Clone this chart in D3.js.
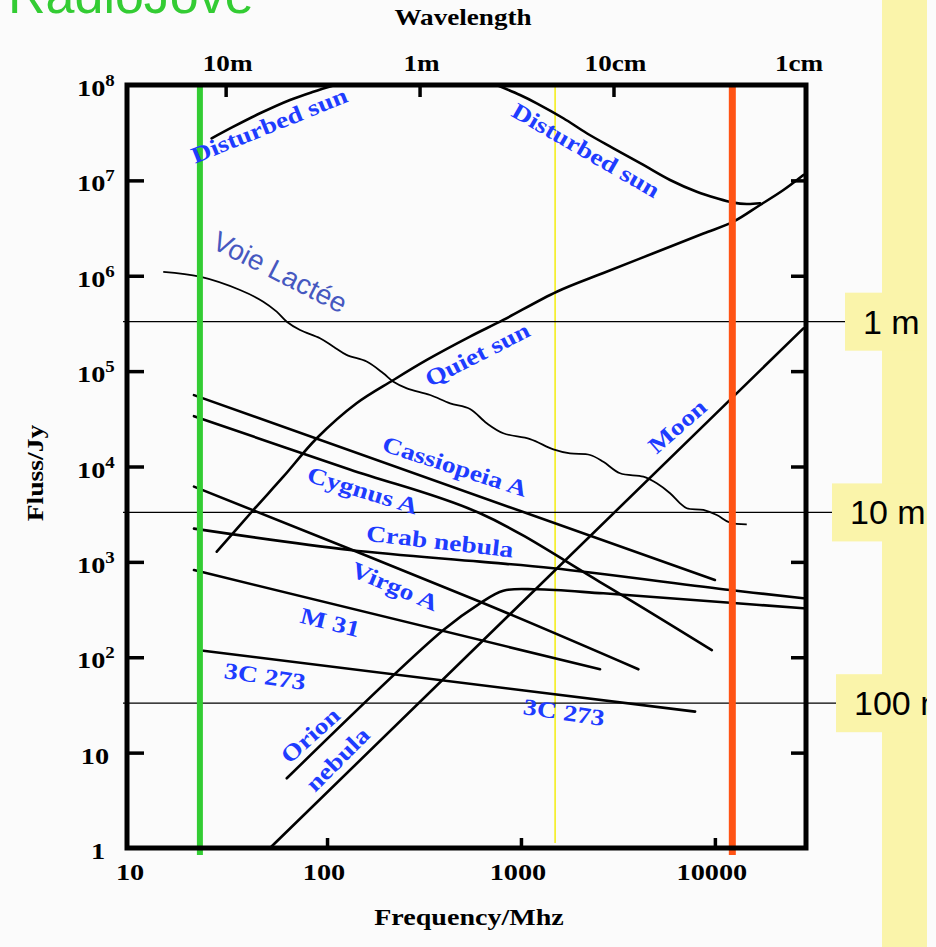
<!DOCTYPE html>
<html>
<head>
<meta charset="utf-8">
<script src="https://cdn.jsdelivr.net/npm/d3@7"></script>
<style>
  body { margin: 0; background: #fbfbfb; }
  svg { display: block; }
</style>
</head>
<body>
<svg id="chart" width="936" height="947"></svg>
<script>
// ---- data: [frequency MHz, flux Jy] ----
var disturbedSunLow = [[25.4, 2.76e7], [32.9, 3.66e7], [45.1, 5.05e7], [64.4, 6.97e7], [85, 8.5e7], [110, 1e8]];
var disturbedSunHigh = [[750, 1e8], [989, 7.85e7], [1206, 6.43e7], [1654, 4.48e7], [2184, 3.12e7], [2996, 2.17e7],
    [4278, 1.45e7], [5873, 1.01e7], [8065, 7.6e6], [10230, 6.49e6], [12460, 5.84e6], [14600, 5.65e6], [17100, 5.75e6]];
var quietSun = [[27, 1279], [41.7, 3499], [59.5, 7816], [88.5, 19760], [142, 46000], [220, 80700], [327, 1.31e5],
    [546, 2.3e5], [811, 3.44e5], [1530, 6.8e5], [2660, 1.07e6], [4818, 1.72e6], [8723, 2.77e6], [12460, 3.69e6],
    [17100, 5.52e6], [22560, 7.93e6], [28600, 1.14e7]];
var milkyWay = [[14.3, 1.10e6], [22.1, 9.78e5], [35.6, 7.09e5], [46.9, 5.35e5], [55, 4.2e5], [62, 3.3e5], [72.6, 2.7e5],
    [92, 2.21e5], [108, 1.8e5], [126, 1.48e5], [160, 1.26e5], [195, 9.5e4], [220, 7.75e4], [258, 6.6e4], [340, 5.62e4],
    [431, 4.6e4], [546, 4.01e4], [666, 2.84e4], [811, 2.23e4], [1114, 1.94e4], [1469, 1.51e4], [1791, 1.37e4],
    [2272, 1.32e4], [2660, 1.12e4], [3244, 8490], [4278, 7820], [5015, 6670], [5873, 5240], [6615, 4110],
    [7161, 3650], [8723, 3500], [10230, 3100], [11980, 2575], [14600, 2478]];
var casA = [[20.6, 5.6e4], [10000, 646]];
var cygA = [[20.6, 3.37e4], [131, 9300], [615, 3230], [2558, 615], [9640, 119]];
var crab = [[20.6, 2230], [131, 1333], [615, 1005], [1469, 857], [11980, 507], [28600, 415]];
var virgoA = [[20.6, 6150], [615, 382], [4032, 74.8]];
var m31 = [[20.6, 820], [2558, 74.8]];
var c3c273 = [[23, 117], [7905, 26.9]];
var orion = [[62, 5.38], [398, 193], [615, 368], [811, 499], [1206, 516], [2660, 468], [12970, 368], [28600, 326]];
var moon = [[50.8, 1], [28600, 2.81e5]];

// marker frequencies (MHz): RadioJove, 1.5 GHz, satellite TV
var jove = 22.1, lband = 1500, satTv = 12300;

// Jupiter flux at distance (Jy)
var jupiterFlux = [3.3e5, 3.3e3, 33];
var jupiterText = ["1 m", "10 m", "100 m"];

// axis ticks
var fluxTicks = [1e1, 1e2, 1e3, 1e4, 1e5, 1e6, 1e7];
var fluxLabels = [1, 10, 1e2, 1e3, 1e4, 1e5, 1e6, 1e7, 1e8];
var freqTicks = [100, 1000, 10000];
var freqLabels = [10, 100, 1000, 10000];
var waveFreqs = [30, 300, 3000, 30000];
var waveLabels = ["10m", "1m", "10cm", "1cm"];

// source labels
var labelText = ["Disturbed sun", "Disturbed sun", "Quiet sun", "Cassiopeia A", "Cygnus A", "Crab nebula",
    "Virgo A", "M 31", "3C 273", "3C 273", "Orion", "nebula", "Moon"];
var labelFreq = [50.2, 2166, 594, 457, 153, 382, 224, 104, 47.9, 1668, 81.7, 113, 6383];
var labelFlux = [3.81e7, 2.08e7, 1.51e5, 1.01e4, 5670, 1656, 558, 234, 63.6, 26.7, 15.3, 8.57, 2.66e4];
var labelAngle = [-22, 30, -27, 18, 17, 6.5, 23, 14, 8.5, 8.5, -42, -45, -41];

// ---- drawing ----
var svg = d3.select("#chart");
var serif = "'Liberation Serif','Times New Roman',serif";
var sans = "'Liberation Sans',Arial,sans-serif";
var sx = 1.18;   // the scanned figure is a bit stretched sideways

var x = d3.scaleLog().domain([9.3, 29500]).range([127, 806]);
var y = d3.scaleLog().domain([1, 1e8]).range([848, 85]);
var pLeft = x.range()[0], pRight = x.range()[1], pTop = y.range()[1], pBottom = y.range()[0];

function stext(g, str, px, py, o) {
    return g.append("text")
        .attr("transform", "translate(" + px + "," + py + ") rotate(" + (o.angle || 0) + ") scale(" + (o.sx || 1) + ",1)")
        .attr("text-anchor", o.anchor || "middle")
        .attr("dominant-baseline", o.baseline || "auto")
        .style("font-family", o.font || serif)
        .style("font-weight", o.weight || "bold")
        .style("font-size", o.size + "px")
        .attr("fill", o.fill || "#000")
        .text(str);
}

svg.append("rect").attr("width", 936).attr("height", 947).attr("fill", "#fbfbfb");

// yellow side panel
svg.append("rect").attr("x", 882).attr("y", 0).attr("width", 45).attr("height", 947).attr("fill", "#faf4aa");

// title (cut at the top, as in the slide)
stext(svg, "RadioJove", 8, 13, {anchor: "start", font: sans, weight: "normal", size: 52, fill: "#33cc33"});

// thin yellow 1.5 GHz marker, under the curves
svg.append("line")
    .attr("x1", x(lband)).attr("x2", x(lband))
    .attr("y1", pTop).attr("y2", pBottom - 5)
    .attr("stroke", "#f4ee1e").attr("stroke-width", 1.6);

// spectra
var line = d3.line()
    .x(function(d) { return x(d[0]); })
    .y(function(d) { return y(d[1]); })
    .curve(d3.curveCatmullRom.alpha(0.5));

var curves = [disturbedSunLow, disturbedSunHigh, quietSun, casA, cygA, crab, virgoA, m31, c3c273, orion, moon];
svg.append("g").selectAll("path")
    .data(curves)
  .enter().append("path")
    .attr("d", line)
    .attr("fill", "none")
    .attr("stroke", "#000")
    .attr("stroke-width", 2.6)
    .attr("stroke-linecap", "round");

svg.append("path")
    .datum(milkyWay)
    .attr("d", line)
    .attr("fill", "none")
    .attr("stroke", "#000")
    .attr("stroke-width", 1.8);

// Jupiter level lines + callouts
var boxLeft = [845, 832, 836];
jupiterFlux.forEach(function(v, i) {
    var yy = y(v);
    svg.append("line")
        .attr("x1", pLeft - 4).attr("x2", boxLeft[i])
        .attr("y1", yy).attr("y2", yy)
        .attr("stroke", "#000").attr("stroke-width", 1.2);
    svg.append("rect")
        .attr("x", boxLeft[i]).attr("y", yy - 29)
        .attr("width", 927 - boxLeft[i]).attr("height", 58)
        .attr("fill", "#faf4aa");
    stext(svg, jupiterText[i], boxLeft[i] + 18, yy + 12, {anchor: "start", font: sans, weight: "normal", size: 34});
});
// page edge past the panel
svg.append("rect").attr("x", 927).attr("y", 0).attr("width", 9).attr("height", 947).attr("fill", "#fbfbfb");

// RadioJove and satellite TV markers
[[jove, "#33cc33", 6], [satTv, "#ff5314", 7]].forEach(function(m) {
    svg.append("line")
        .attr("x1", x(m[0])).attr("x2", x(m[0]))
        .attr("y1", pTop).attr("y2", pBottom + 7)
        .attr("stroke", m[1]).attr("stroke-width", m[2]);
});

// frame
svg.append("rect")
    .attr("x", pLeft).attr("y", pTop)
    .attr("width", pRight - pLeft).attr("height", pBottom - pTop)
    .attr("fill", "none").attr("stroke", "#000").attr("stroke-width", 5);

// inward ticks via axes
function ticks(g) {
    g.select(".domain").remove();
    g.selectAll(".tick line").attr("stroke", "#000").attr("stroke-width", 3.5);
}
svg.append("g").attr("transform", "translate(" + pLeft + ",0)")
    .call(d3.axisRight(y).tickValues(fluxTicks).tickSize(17).tickFormat(""))
    .call(ticks);
svg.append("g").attr("transform", "translate(" + pRight + ",0)")
    .call(d3.axisLeft(y).tickValues(fluxTicks).tickSize(15).tickFormat(""))
    .call(ticks);
svg.append("g").attr("transform", "translate(0," + pBottom + ")")
    .call(d3.axisTop(x).tickValues(freqTicks).tickSize(10).tickFormat(""))
    .call(ticks);
svg.append("g").attr("transform", "translate(0," + pTop + ")")
    .call(d3.axisBottom(x).tickValues(waveFreqs.slice(0, 3)).tickSize(12).tickFormat(""))
    .call(ticks);

// flux tick labels
fluxLabels.forEach(function(v) {
    var e = Math.round(Math.log10(v));
    var yy = y(v) + 11;
    if (e >= 2) {
        var t = stext(svg, "", 77, yy, {anchor: "start", size: 24, sx: sx});
        t.append("tspan").text("10");
        t.append("tspan").attr("dy", -10).style("font-size", "16px").text(e);
    } else {
        stext(svg, String(v), e === 1 ? 95 : 98, yy, {size: 24, sx: sx});
    }
});

// frequency tick labels
freqLabels.forEach(function(v) {
    stext(svg, String(v), x(v) - 3, 880, {size: 24, sx: sx});
});

// wavelength labels
waveFreqs.forEach(function(f, i) {
    stext(svg, waveLabels[i], Math.min(x(f) + 2, pRight - 7), 71, {size: 23, sx: sx});
});

// axis titles
stext(svg, "Wavelength", 463, 25, {size: 23, sx: sx});
stext(svg, "Frequency/Mhz", 469, 925, {size: 23, sx: 1.22});
svg.append("text")
    .attr("transform", "translate(43,473) rotate(-90) scale(1.2,1)")
    .attr("text-anchor", "middle")
    .style("font-family", serif).style("font-weight", "bold").style("font-size", "23px")
    .text("Fluss/Jy");

// source labels
labelText.forEach(function(s, i) {
    stext(svg, s, x(labelFreq[i]), y(labelFlux[i]),
        {angle: labelAngle[i], size: 23, sx: 1.2, baseline: "central", fill: "#1e3cff"});
});
stext(svg, "Voie Lactée", x(57.2), y(1.09e6),
    {angle: 27, size: 28, font: sans, weight: "normal", baseline: "central", fill: "#4658c0"});
</script>
</body>
</html>
